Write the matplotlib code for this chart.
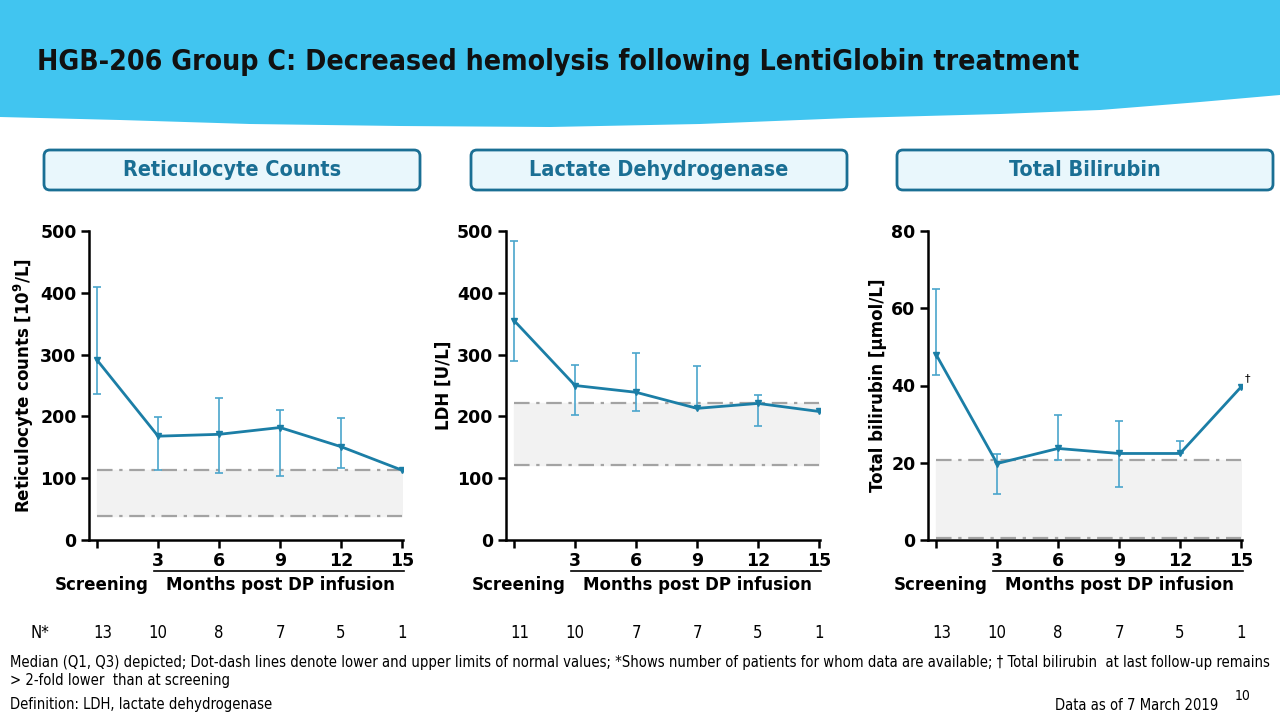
import numpy as np
import matplotlib.pyplot as plt
from matplotlib.patches import FancyBboxPatch, Polygon
import matplotlib.transforms as mtransforms

# months after infusion (0 = screening)
months = [0, 3, 6, 9, 12, 15]
xtick_labels = ['', '3', '6', '9', '12', '15']

# reticulocyte counts [10^9/L]: median, Q1, Q3
retic_med = [291, 168, 171, 182, 151, 113]
retic_q1 = [236, 113, 108, 103, 116, np.nan]
retic_q3 = [410, 199, 229, 210, 198, np.nan]
retic_norm = [39, 113]
retic_n = ['13', '10', '8', '7', '5', '1']

# LDH [U/L]
ldh_med = [355, 250, 239, 213, 221, 208]
ldh_q1 = [289, 202, 208, 213, 185, np.nan]
ldh_q3 = [484, 283, 302, 281, 234, np.nan]
ldh_norm = [122, 222]
ldh_n = ['11', '10', '7', '7', '5', '1']

# total bilirubin [umol/L]
bili_med = [48.0, 19.8, 23.7, 22.4, 22.4, 39.6]
bili_q1 = [42.8, 12.0, 20.6, 13.8, 22.4, np.nan]
bili_q3 = [64.9, 22.2, 32.4, 30.8, 25.6, np.nan]
bili_norm = [0.4, 20.6]
bili_n = ['13', '10', '8', '7', '5', '1']

line_col = '#1b7ea6'
err_col = '#4aa5cc'
teal = '#1a6f94'

fig = plt.figure(figsize=(12.8, 7.2), dpi=100)

# background layer in pixel coordinates
bg = fig.add_axes([0, 0, 1, 1], zorder=0)
bg.set_xlim(0, 1280)
bg.set_ylim(720, 0)
bg.axis('off')

wave = [(0, 0), (1280, 0), (1280, 95), (1200, 102), (1100, 110), (1000, 114),
        (850, 118), (700, 124), (550, 127), (400, 126), (250, 124), (120, 120),
        (0, 117)]
bg.add_patch(Polygon(wave, closed=True, fc='#41c5f0', ec='none'))
bg.text(37, 62, 'HGB-206 Group C: Decreased hemolysis following LentiGlobin treatment',
        fontsize=20.3, fontweight='bold', fontstretch='condensed', color='#111111',
        va='center', ha='left')

boxes = [(44, 'Reticulocyte Counts'), (471, 'Lactate Dehydrogenase'), (897, 'Total Bilirubin')]
for x0, label in boxes:
    bg.add_patch(FancyBboxPatch((x0, 150), 376, 40, boxstyle='round,pad=0,rounding_size=6',
                                fc='#e9f7fc', ec=teal, lw=2))
    bg.text(x0 + 188, 170, label, fontsize=15.5, fontweight='bold', fontstretch='condensed',
            color=teal, ha='center', va='center')

panels = [
    (89, retic_med, retic_q1, retic_q3, retic_norm, retic_n, 500, 100,
     r'Reticulocyte counts [10$^\mathbf{9}$/L]'),
    (506, ldh_med, ldh_q1, ldh_q3, ldh_norm, ldh_n, 500, 100, 'LDH [U/L]'),
    (928, bili_med, bili_q1, bili_q3, bili_norm, bili_n, 80, 20,
     'Total bilirubin [µmol/L]'),
]

axes = []
for left, med, q1, q3, norm, nvals, ymax, ystep, ylab in panels:
    ax = fig.add_axes([left / 1280, 1 - 540 / 720, 314 / 1280, 309 / 720], zorder=2)
    ax.patch.set_alpha(0)
    ax.set_xlim(-0.4, 15.05)
    ax.set_ylim(0, ymax)
    med = np.array(med, dtype=float)
    q1 = np.array(q1, dtype=float)
    q3 = np.array(q3, dtype=float)
    x = np.array(months, dtype=float)

    ax.axhspan(norm[0], norm[1], xmin=0.4 / 15.45, xmax=1, color='#f2f2f2', zorder=1)
    for v in norm:
        ax.plot([0, 15], [v, v], color='#a3a3a3', lw=1.6,
                linestyle=(0, (7, 3, 1.5, 3)), zorder=2)

    ok = ~np.isnan(q1)
    ax.errorbar(x[ok], med[ok], yerr=[med[ok] - q1[ok], q3[ok] - med[ok]], fmt='none',
                ecolor=err_col, elinewidth=1.2, capsize=3, capthick=1.2, zorder=3)
    ax.plot(x, med, color=line_col, lw=2, marker='v', ms=5, zorder=4)

    for s in ['top', 'right']:
        ax.spines[s].set_visible(False)
    for s in ['left', 'bottom']:
        ax.spines[s].set_linewidth(1.8)
    ax.set_yticks(np.arange(0, ymax + 1, ystep))
    ax.set_xticks(months)
    ax.set_xticklabels(xtick_labels)
    ax.tick_params(width=1.8, length=6, labelsize=12.5, pad=3)
    for lab in ax.get_xticklabels() + ax.get_yticklabels():
        lab.set_fontweight('bold')
    ax.set_ylabel(ylab, fontsize=12, fontweight='bold', labelpad=3)

    trans = mtransforms.blended_transform_factory(ax.transData, fig.transFigure)
    ax.plot([2.8, 15.1], [1 - 571 / 720] * 2, color='black', lw=1.2,
            transform=trans, clip_on=False)
    ax.text(0.2, 1 - 585 / 720, 'Screening', transform=trans, ha='center', va='center',
            fontsize=12, fontweight='bold')
    ax.text(9, 1 - 585 / 720, 'Months post DP infusion', transform=trans, ha='center',
            va='center', fontsize=12, fontweight='bold')
    for xi, nv in zip(months, nvals):
        ax.text(xi + (0.3 if xi == 0 else 0), 1 - 633 / 720, nv, transform=trans,
                ha='center', va='center', fontsize=12, fontstretch='condensed')
    axes.append(ax)

axes[2].text(15.2, 40.5, '†', fontsize=8, ha='left', va='bottom')

bg.text(40, 633, 'N*', fontsize=12, ha='center', va='center', fontstretch='condensed')
bg.text(10, 663, 'Median (Q1, Q3) depicted; Dot-dash lines denote lower and upper limits of normal values; '
        '*Shows number of patients for whom data are available; † Total bilirubin  at last follow-up remains',
        fontsize=10.6, ha='left', va='center', fontstretch='condensed')
bg.text(10, 681, '> 2-fold lower  than at screening', fontsize=10.6, ha='left', va='center',
        fontstretch='condensed')
bg.text(10, 704, 'Definition: LDH, lactate dehydrogenase', fontsize=10.6, ha='left',
        va='center', fontstretch='condensed')
bg.text(1055, 706, 'Data as of 7 March 2019', fontsize=10.6, ha='left', va='center',
        fontstretch='condensed')
bg.text(1243, 696, '10', fontsize=10, ha='center', va='center', fontstretch='condensed')

fig.savefig('out.png', dpi=100)
